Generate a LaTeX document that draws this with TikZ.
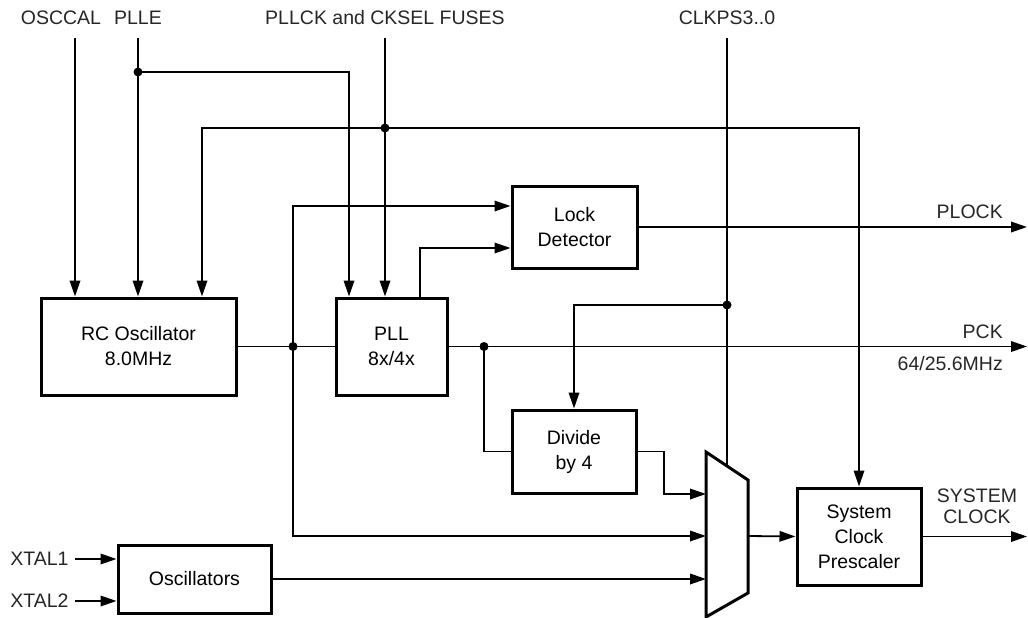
\documentclass[tikz,border=0pt]{standalone}
\usepackage{fontspec}
\setmainfont{Liberation Sans}
\usetikzlibrary{arrows.meta,positioning,calc}
\newcommand{\sigfont}{\fontsize{19.5}{25}\selectfont}
\tikzstyle{block}=[rectangle, draw, line width=3pt, align=center, font=\sigfont, inner sep=0pt]
\tikzstyle{lbl}=[font=\sigfont, inner sep=0pt, text=black!85]
\tikzstyle{wire}=[line width=1.8pt]
\tikzstyle{sig}=[wire, -{Triangle[length=16pt,width=10.5pt]}]

\begin{document}
\begin{tikzpicture}[x=1pt, y=-1pt]
        \useasboundingbox (0,0) rectangle (1028,618);

        % Blocos
        \node[block, minimum width=195pt, minimum height=97pt] (rcosc) at (138.5,346.5) {RC Oscillator\\8.0MHz};
        \node[block, minimum width=111pt, minimum height=97pt] (pll) at (391.5,346.5) {PLL\\8x/4x};
        \node[block, minimum width=125pt, minimum height=82pt] (lockdet) at (574.5,227) {Lock\\Detector};
        \node[block, minimum width=124pt, minimum height=83pt] (divide) at (574,451.5) {Divide\\by 4};
        \node[block, minimum width=124pt, minimum height=97pt] (prescaler) at (859,536.5) {System\\Clock\\Prescaler};
        \node[block, minimum width=153pt, minimum height=68pt] (oscs) at (194.5,579) {Oscillators};

        % Multiplexador
        \coordinate (mux1) at (706,452);
        \coordinate (mux2) at (748,480);
        \coordinate (mux3) at (748,593);
        \coordinate (mux4) at (706,617);
        \draw[line width=3pt, line join=miter] (mux1) -- (mux2) -- (mux3) -- (mux4) -- cycle;
        \coordinate (muxa) at (706,494);
        \coordinate (muxb) at (706,536);
        \coordinate (muxc) at (706,579);
        \coordinate (muxout) at (748,536);
        \coordinate (clkpsend) at (727,466);

        % Rótulos de entrada
        \node[lbl] (osccal) at (61,18) {OSCCAL};
        \node[lbl] (plle) at (138,18) {PLLE};
        \node[lbl] (fuses) at (385,18) {PLLCK and CKSEL FUSES};
        \node[lbl] (clkps) at (727,18) {CLKPS3..0};
        \node[lbl] (xtal1) at (39.5,559) {XTAL1};
        \node[lbl] (xtal2) at (39.5,601) {XTAL2};

        \coordinate (osccalin) at (75,38);
        \coordinate (pllein) at (138,38);
        \coordinate (fusesin) at (385,38);
        \coordinate (clkpsin) at (727,38);
        \coordinate (xtal1in) at (75,559);
        \coordinate (xtal2in) at (75,601);
        \coordinate (lanerc) at (202,0);
        \coordinate (lanepll) at (349,0);
        \coordinate (lanediv) at (664,0);

        % Junções
        \coordinate (jplle) at (138,72);
        \coordinate (jfuse) at (385,128);
        \coordinate (jrc) at (293,346.5);
        \coordinate (jpck) at (484,346.5);
        \coordinate (jclkps) at (727,305);

        % Saídas
        \coordinate (plockout) at (1027,227);
        \coordinate (pckout) at (1027,346.5);
        \coordinate (sysout) at (1027,536.5);

        % Sinais de controle
        \draw[sig] (osccalin) -- (osccalin |- rcosc.north);
        \draw[sig] (pllein) -- (pllein |- rcosc.north);
        \draw[sig] (jplle) -| (lanepll |- pll.north);
        \draw[sig] (fusesin) -- (fusesin |- pll.north);
        \draw[sig] (jfuse) -| (lanerc |- rcosc.north);
        \draw[sig] (jfuse) -| (prescaler.north);
        \draw[wire] (clkpsin) -- (clkpsend);
        \draw[sig] (jclkps) -| (divide.north);

        % Caminho do relógio
        \draw[wire] (rcosc.east) -- (pll.west);
        \draw[sig] (jrc) |- ([yshift=21pt]lockdet.west);
        \draw[sig] (jrc) |- (muxb);
        \draw[sig] ([xshift=28.5pt]pll.north) |- ([yshift=-21pt]lockdet.west);
        \draw[sig] (lockdet.east) -- (plockout);
        \draw[sig] (pll.east) -- (pckout);
        \draw[wire] (jpck) |- (divide.west);
        \draw[sig] (divide.east) -| (lanediv |- muxa) -- (muxa);
        \draw[sig] (oscs.east) -- (muxc);
        \draw[sig] (muxout) -- (prescaler.west);
        \draw[sig] (prescaler.east) -- (sysout);
        \draw[sig] (xtal1in) -- ([yshift=20pt]oscs.west);
        \draw[sig] (xtal2in) -- ([yshift=-22pt]oscs.west);

        \foreach \j in {jplle,jfuse,jrc,jpck,jclkps}
          \fill (\j) circle (4.5pt);

        % Rótulos de saída
        \node[lbl, anchor=east] (plocklbl) at (1003,212) {PLOCK};
        \node[lbl, anchor=east] (pcklbl) at (1003,332) {PCK};
        \node[lbl, anchor=east] (freqlbl) at (1003,364) {64/25.6MHz};
        \node[lbl, align=center, font=\fontsize{19.5}{21}\selectfont] (syslbl) at (977,506) {SYSTEM\\CLOCK};
      \end{tikzpicture}
\end{document}
